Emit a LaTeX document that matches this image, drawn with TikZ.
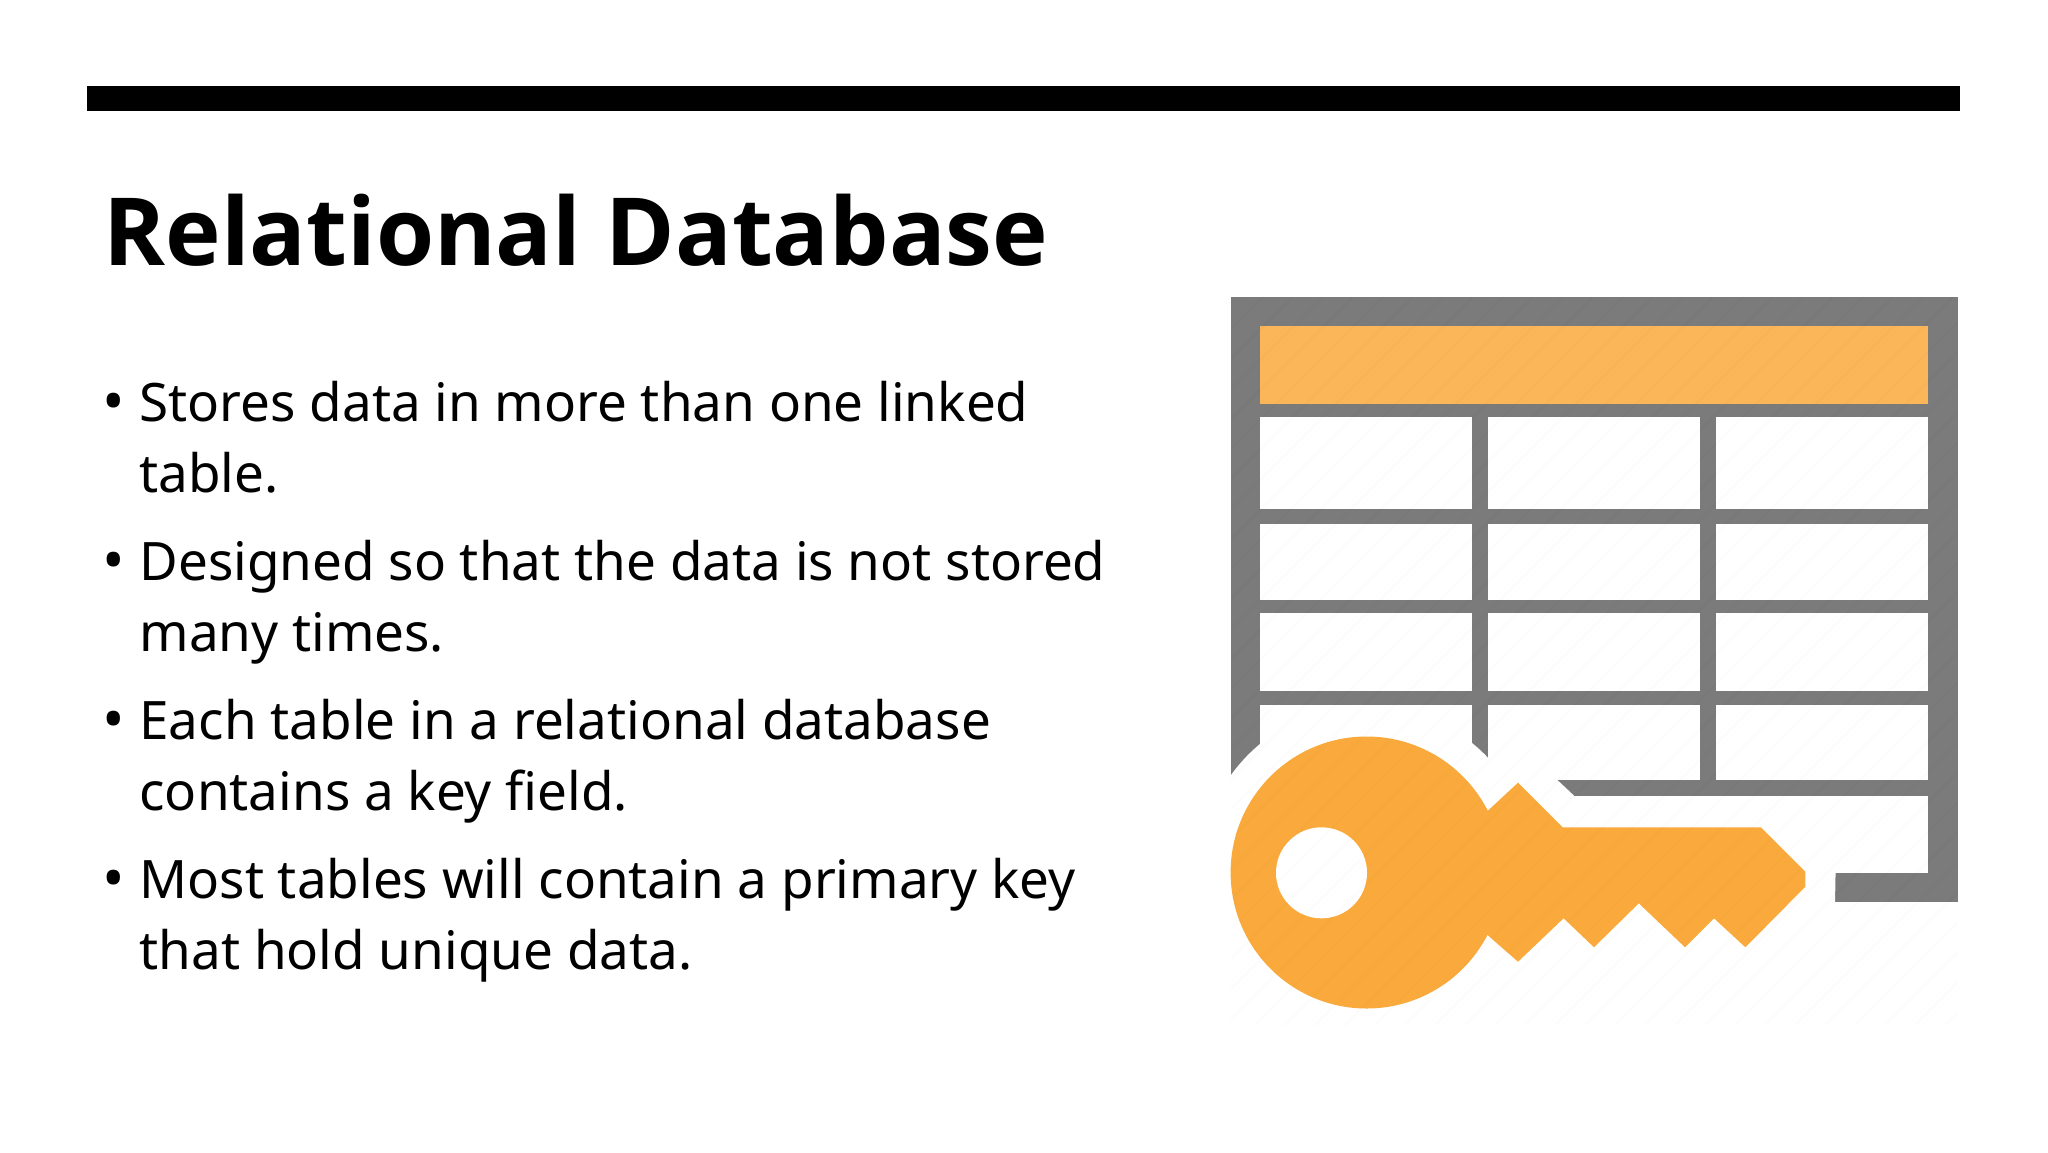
\documentclass[tikz,border=0pt]{standalone}
\usepackage{fontspec}
\setmainfont{Noto Sans}
\newfontfamily\titlefont{Open Sans}[BoldFont={Open Sans Bold}]
\usetikzlibrary{positioning}
\definecolor{grid_gray}{HTML}{7B7B7B}
\definecolor{head_orange}{HTML}{FBB65A}
\definecolor{key_orange}{HTML}{FAAA3C}
\tikzset{
        treetext/.style={inner sep=0pt,outer sep=0pt,anchor=base west},
        % Slide title
        node_title/.style={treetext, font=\fontsize{94}{110}\titlefont\bfseries\selectfont},
        % Body lines
        node_line/.style={treetext, font=\fontsize{53}{70}\selectfont},
        % Bullet dots
        node_dot/.style={treetext, font=\fontsize{60}{70}\selectfont},
        % Table cells
        node_cell/.style={fill=white},
        % Key parts
        node_key/.style={fill=key_orange},
        % Faint stripes over the icon
        node_stripe/.style={black, opacity=0.012, line width=2.5pt}
}
\begin{document}
\begin{tikzpicture}[x=1pt,y=-1pt]
            \useasboundingbox (0,0) rectangle (2048,1152);
            \fill[black] (87,86) rectangle (1960,110.5);
            \node[node_title] (title) at (103.5,265.5) {Relational Database};
            % Bullets
            \foreach \name/\ypos/\first/\second in {
                one/421.5/Stores data in more than one linked/table.,
                two/580.5/Designed so that the data is not stored/many times.,
                three/739.5/Each table in a relational database/contains a key field.,
                four/898.5/Most tables will contain a primary key/that hold unique data.}{
                \node[node_dot] (dot_\name) at (102,\ypos+1) {•};
                \node[node_line] (first_\name) at (139.5,\ypos) {\first};
                \node[node_line] (second_\name) at (139.5,\ypos+70.5) {\second};
            }
            % Table
            \fill[grid_gray] (1231,297) rectangle (1957.5,902.3);
            \fill[head_orange] (1259.6,326) rectangle (1928,403.7);
            \foreach \top/\bottom in {417.3/508.7, 524.3/599.7, 613.3/691, 705/780}{
                \foreach \left/\right in {1259.6/1471.8, 1488/1700, 1716/1928}{
                    \fill[node_cell] (\left,\top) rectangle (\right,\bottom);
                }
            }
            \fill[node_cell] (1259.6,796) rectangle (1928,872.7);
            % Gap around the key
            \fill[white] (1366.6,872.5) circle (167);
            \fill[white] (1487,774) -- (1518,743) -- (1574.4,796) -- (1837,796)
                -- (1835,903) -- (1225,903) -- (1225,872) -- cycle;
            % Key
            \fill[node_key] (1366.6,872.5) circle (136);
            \fill[node_key] (1480,811) -- (1487.5,811) -- (1518,782.7) -- (1562.6,827.3) -- (1761,827.3)
                -- (1805.3,871.7) -- (1805.3,886.7) -- (1745.4,947.3) -- (1714,918.3)
                -- (1685,947.3) -- (1638.8,903.3) -- (1594,947.3) -- (1563.6,918.3)
                -- (1518,961.7) -- (1487.5,935) -- (1480,935) -- cycle;
            \fill[white] (1321.5,872.8) circle (45.5);
            % Stripes
            \begin{scope}
                \clip (1231,297) rectangle (1957.5,1025);
                \foreach \c in {1530,1560,...,2990}{
                    \draw[node_stripe] (\c-297,297) -- (\c-1025,1025);
                }
            \end{scope}
        \end{tikzpicture}
\end{document}
